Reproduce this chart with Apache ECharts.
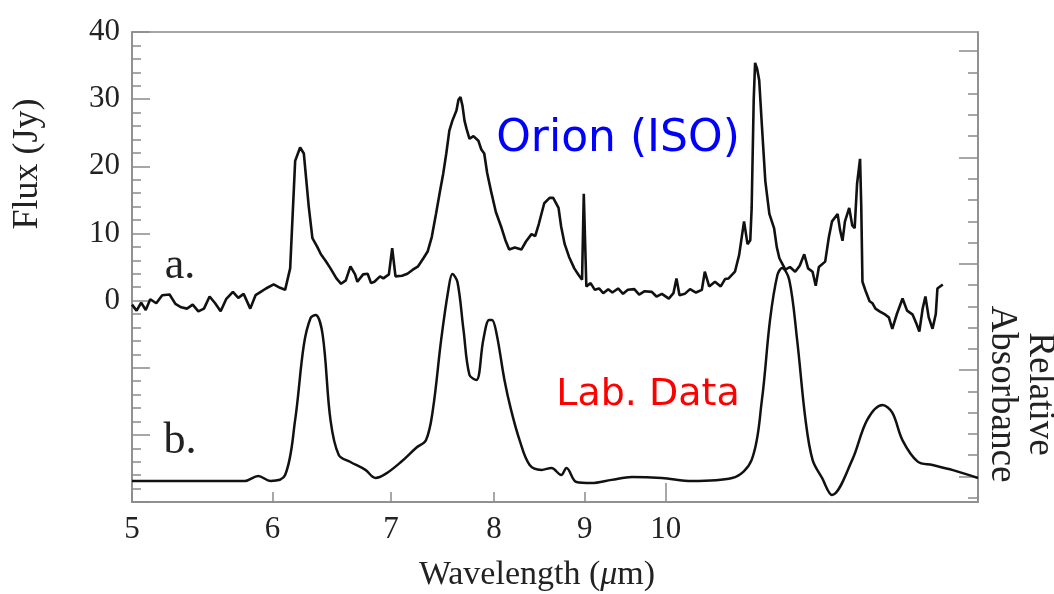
<!DOCTYPE html>
<html><head><meta charset="utf-8">
<script src="https://cdn.jsdelivr.net/npm/echarts@6/dist/echarts.min.js"></script>
<style>html,body{margin:0;padding:0;background:#fff}#c{width:1054px;height:594px}</style>
</head><body><div id="c"></div>
<script>
// Wavelength tick labels (µm) on the log axis
const xTicks = [5, 6, 7, 8, 9, 10];
const xLongTicks = [10];
const fluxTicks = [0, 10, 20, 30, 40];
const absMinorTicks = [-0.1,0,0.1,0.2,0.3,0.4,0.5,0.6,0.7,0.8,0.9,1.0,1.1,1.2,1.3,1.4,1.5,1.6,1.7,1.8,1.9,2.0];
const absMajorTicks = [0, 0.5, 1.0, 1.5, 2.0];

// a. Orion (ISO) spectrum: [wavelength µm, flux Jy]
const orion = [
[5.00,-0.6],[5.03,-1.5],[5.06,-0.3],[5.09,-1.4],[5.12,0.2],[5.16,-0.4],[5.20,0.8],[5.25,0.9],[5.29,-0.5],[5.33,-1.0],
[5.37,-1.2],[5.41,-0.6],[5.45,-1.6],[5.49,-1.2],[5.53,0.6],[5.57,-0.4],[5.61,-1.6],[5.65,0.2],[5.70,1.3],[5.74,0.4],
[5.78,1.0],[5.83,-1.2],[5.87,0.8],[5.91,1.3],[5.95,1.8],[6.01,2.4],[6.06,1.9],[6.10,1.6],[6.14,4.8],[6.18,20.8],
[6.22,22.8],[6.25,21.9],[6.29,14.0],[6.32,9.3],[6.36,8.0],[6.39,6.9],[6.43,5.9],[6.47,4.8],[6.52,3.3],[6.56,2.5],
[6.60,3.0],[6.64,5.1],[6.68,3.9],[6.70,2.8],[6.75,3.9],[6.79,4.0],[6.82,2.6],[6.85,2.8],[6.90,3.6],[6.93,3.3],
[6.98,3.9],[7.01,7.8],[7.04,3.6],[7.10,3.7],[7.15,4.0],[7.20,4.6],[7.25,5.1],[7.30,6.3],[7.34,7.3],[7.38,9.5],
[7.42,12.9],[7.46,16.4],[7.49,18.9],[7.52,21.9],[7.55,25.3],[7.58,26.8],[7.62,28.3],[7.64,29.9],[7.66,30.3],[7.68,29.0],
[7.70,26.8],[7.72,25.6],[7.75,24.1],[7.79,24.5],[7.84,23.8],[7.87,22.5],[7.90,21.9],[7.93,19.0],[7.97,16.3],[8.02,13.2],
[8.08,10.8],[8.12,9.0],[8.16,7.6],[8.22,7.9],[8.29,7.6],[8.34,8.8],[8.40,9.9],[8.44,9.6],[8.48,11.4],[8.54,14.5],
[8.60,15.3],[8.64,15.3],[8.70,13.8],[8.73,11.0],[8.77,8.4],[8.82,6.5],[8.88,4.8],[8.93,3.8],[8.97,3.1],[8.99,15.9],
[9.01,15.9],[9.02,2.1],[9.07,2.6],[9.12,1.6],[9.17,1.8],[9.22,1.1],[9.28,1.7],[9.33,1.2],[9.40,1.8],[9.46,1.0],
[9.52,1.6],[9.60,1.7],[9.66,0.9],[9.73,1.4],[9.82,1.3],[9.88,0.6],[9.95,1.0],[10.04,0.3],[10.10,1.1],[10.14,3.3],
[10.18,0.8],[10.25,1.0],[10.32,1.7],[10.40,1.2],[10.48,1.6],[10.52,4.3],[10.58,2.1],[10.66,2.8],[10.74,2.1],[10.80,3.2],
[10.85,3.3],[10.94,4.3],[11.00,6.8],[11.07,11.8],[11.12,8.4],[11.16,9.0],[11.18,13.8],[11.21,30.0],[11.23,35.4],[11.26,34.5],
[11.29,32.8],[11.33,26.0],[11.38,17.8],[11.44,12.9],[11.51,10.8],[11.55,8.0],[11.59,6.3],[11.68,4.6],[11.75,5.0],[11.83,4.3],
[11.90,5.2],[11.97,6.9],[12.03,4.8],[12.10,4.3],[12.15,2.2],[12.20,5.0],[12.30,5.8],[12.36,9.5],[12.41,11.8],[12.50,12.9],
[12.54,10.5],[12.58,8.9],[12.62,11.8],[12.69,13.8],[12.74,11.2],[12.78,10.8],[12.82,17.4],[12.87,21.1],[12.89,14.0],[12.91,2.8],
[12.96,1.5],[13.03,-0.1],[13.08,-0.4],[13.13,-1.2],[13.20,-1.6],[13.30,-2.1],[13.36,-2.5],[13.42,-4.2],[13.50,-2.0],[13.60,0.3],
[13.68,-1.5],[13.78,-2.1],[13.85,-3.5],[13.90,-4.6],[13.96,-1.2],[14.01,0.6],[14.07,-2.5],[14.14,-4.2],[14.20,-2.0],[14.23,1.8],
[14.33,2.4]
];

// b. Laboratory absorbance spectrum: [wavelength µm, relative absorbance]
const lab = [
[5.00,-0.021],[5.40,-0.021],[5.79,-0.021],[5.89,0.002],[5.985,-0.021],[6.10,0.007],[6.18,0.266],[6.25,0.618],[6.305,0.745],[6.346,0.759],
[6.405,0.665],[6.47,0.266],[6.54,0.101],[6.64,0.068],[6.77,0.031],[6.86,-0.007],[6.95,0.012],[7.09,0.068],[7.23,0.134],[7.325,0.172],
[7.39,0.313],[7.47,0.642],[7.54,0.877],[7.58,0.952],[7.63,0.914],[7.69,0.689],[7.75,0.477],[7.82,0.454],[7.89,0.642],[7.95,0.736],
[7.98,0.736],[8.03,0.665],[8.11,0.454],[8.18,0.313],[8.27,0.172],[8.38,0.054],[8.51,0.031],[8.62,0.040],[8.73,0.007],[8.79,0.040],
[8.905,-0.026],[9.08,-0.031],[9.32,-0.016],[9.57,-0.002],[9.95,-0.007],[10.35,-0.021],[10.90,-0.007],[11.18,0.078],[11.33,0.360],[11.45,0.736],
[11.56,0.947],[11.63,0.980],[11.74,0.924],[11.86,0.642],[11.99,0.266],[12.10,0.078],[12.25,-0.007],[12.41,-0.087],[12.74,0.078],[12.99,0.266],
[13.25,0.336],[13.42,0.300],[13.60,0.170],[13.87,0.070],[14.14,0.054],[14.52,0.030],[15.00,-0.007]
];

const SERIF = '"Liberation Serif","DejaVu Serif",serif';
const SANS = '"DejaVu Sans","Noto Sans",sans-serif';
const AX = '#8a8a8a';

const chart = echarts.init(document.getElementById('c'));
chart.setOption({
  animation: false,
  grid: { left: 132, right: 76, top: 32, bottom: 92, show: true, borderColor: AX, borderWidth: 1.5 },
  xAxis: [
    {
      type: 'log', logBase: 10, min: 5, max: 15,
      axisLine: { onZero: false, lineStyle: { color: AX, width: 1.5 } },
      axisTick: { inside: true, length: 10, customValues: xTicks, lineStyle: { color: AX, width: 1.5 } },
      minorTick: { show: false },
      axisLabel: { customValues: xTicks, fontFamily: SERIF, fontSize: 31, color: '#222', margin: 12 },
      splitLine: { show: false }
    },
    {
      type: 'log', logBase: 10, min: 5, max: 15, position: 'bottom',
      axisLine: { show: false, onZero: false },
      axisTick: { inside: true, length: 19, customValues: xLongTicks, lineStyle: { color: AX, width: 1.5 } },
      axisLabel: { show: false },
      splitLine: { show: false }
    }
  ],
  yAxis: [
    {
      type: 'value', min: -30, max: 40, interval: 10, position: 'left',
      axisLine: { show: true, onZero: false, lineStyle: { color: AX, width: 1.5 } },
      axisTick: { inside: true, length: 18, lineStyle: { color: AX, width: 1.5 } },
      minorTick: { show: true, splitNumber: 5, length: 9, lineStyle: { color: AX, width: 1.5 } },
      axisLabel: { customValues: fluxTicks, fontFamily: SERIF, fontSize: 31, color: '#222', margin: 12 },
      splitLine: { show: false }
    },
    {
      type: 'value', min: -0.12, max: 2.09, position: 'right',
      axisLine: { show: true, onZero: false, lineStyle: { color: AX, width: 1.5 } },
      axisTick: { inside: true, length: 10, customValues: absMinorTicks, lineStyle: { color: AX, width: 1.5 } },
      axisLabel: { show: false },
      splitLine: { show: false }
    },
    {
      type: 'value', min: -0.12, max: 2.09, position: 'right',
      axisLine: { show: false, onZero: false },
      axisTick: { inside: true, length: 19, customValues: absMajorTicks, lineStyle: { color: AX, width: 1.5 } },
      axisLabel: { show: false },
      splitLine: { show: false }
    }
  ],
  series: [
    { name: 'Orion (ISO)', type: 'line', yAxisIndex: 0, data: orion, showSymbol: false, symbol: 'none',
      lineStyle: { color: '#111', width: 2.6 } },
    { name: 'Lab. Data', type: 'line', yAxisIndex: 1, data: lab, showSymbol: false, symbol: 'none', smooth: 0.35,
      lineStyle: { color: '#111', width: 2.5 } }
  ],
  graphic: [
    { type: 'text', x: 28, y: 164, rotation: Math.PI / 2,
      style: { text: 'Flux (Jy)', font: '36px ' + SERIF, fill: '#222', textAlign: 'center', textVerticalAlign: 'middle' } },
    { type: 'text', x: 537, y: 575,
      style: { text: 'Wavelength ({i|μ}m)', font: '34px ' + SERIF, fill: '#222', textAlign: 'center', textVerticalAlign: 'middle',
        rich: { i: { fontStyle: 'italic', fontFamily: SERIF, fontSize: 34, fill: '#222' } } } },
    { type: 'text', x: 1021, y: 394, rotation: -Math.PI / 2,
      style: { text: 'Relative\nAbsorbance', font: '37px ' + SERIF, fill: '#222', textAlign: 'center', textVerticalAlign: 'middle', lineHeight: 38 } },
    { type: 'text', x: 180, y: 266,
      style: { text: 'a.', font: '44px ' + SERIF, fill: '#222', textAlign: 'center', textVerticalAlign: 'middle' } },
    { type: 'text', x: 180, y: 441,
      style: { text: 'b.', font: '44px ' + SERIF, fill: '#222', textAlign: 'center', textVerticalAlign: 'middle' } },
    { type: 'text', x: 618, y: 140,
      style: { text: 'Orion (ISO)', font: '44px ' + SANS, fill: '#0000ff', textAlign: 'center', textVerticalAlign: 'middle' } },
    { type: 'text', x: 648, y: 395,
      style: { text: 'Lab. Data', font: '38px ' + SANS, fill: '#ff0000', textAlign: 'center', textVerticalAlign: 'middle' } }
  ]
});
</script>
</body></html>
